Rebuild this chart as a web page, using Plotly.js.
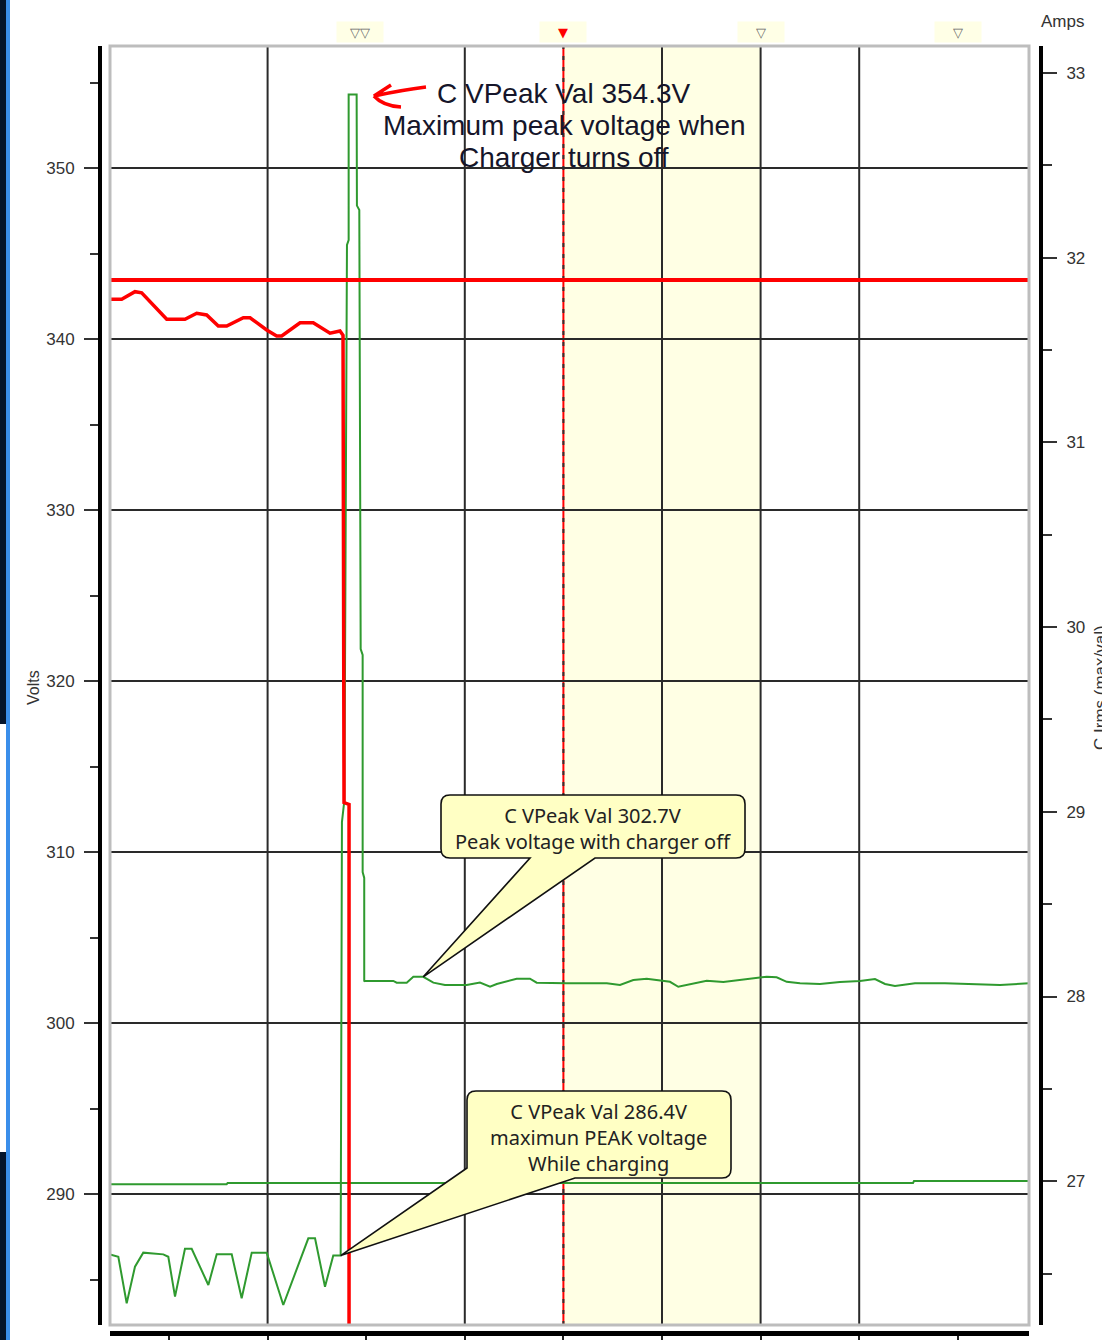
<!DOCTYPE html>
<html><head><meta charset="utf-8">
<script src="https://cdn.plot.ly/plotly-3.0.1.min.js"></script>
<style>html,body{margin:0;padding:0;background:#fff;}#chart{width:1102px;height:1340px;}</style>
</head><body><div id="chart"></div>
<script>
// ---------- DATA ----------
// Time axis (tick units); C VPeak (Volts, left axis)
const tPeak = [-0.598,-0.514,-0.429,-0.345,-0.261,-0.058,-0.007,0.061,0.162,0.230,0.399,0.484,0.636,0.737,0.839,0.991,1.159,1.413,1.481,1.582,1.666,1.741,
  1.754,1.779,1.805,1.822,1.822,1.903,1.906,1.930,1.944,1.964,1.964,1.980,1.980,
  1.988,2.275,2.309,2.411,2.478,2.579,2.681,2.799,3.019,3.154,3.256,3.324,3.425,3.526,3.661,3.729,4.034,4.440,4.574,4.709,4.845,4.980,5.081,5.165,5.251,5.453,5.622,5.791,5.926,6.062,6.163,6.265,6.400,6.602,6.805,7.008,7.160,7.262,7.363,7.566,7.870,8.225,8.428,8.722];
const voltsPeak = [286.47,286.33,283.61,285.75,286.57,286.47,286.33,284.0,286.80,286.80,284.68,286.47,286.47,283.90,286.57,286.57,283.51,287.41,287.41,284.58,286.4,286.4,
  311.75,313.04,345.50,345.79,354.3,354.3,347.80,347.54,321.87,321.52,308.83,308.48,302.42,
  302.46,302.46,302.36,302.36,302.7,302.7,302.36,302.22,302.22,302.36,302.12,302.28,302.44,302.59,302.59,302.36,302.32,302.32,302.22,302.51,302.59,302.47,302.41,302.12,302.22,302.47,302.40,302.51,302.59,302.71,302.67,302.41,302.32,302.28,302.40,302.46,302.57,302.28,302.16,302.32,302.32,302.28,302.22,302.32];

// C Irms (Amps, right axis)
const tIrms = [-0.598,-0.480,-0.345,-0.277,-0.023,0.162,0.281,0.382,0.500,0.585,0.754,0.822,0.991,1.092,1.143,1.329,1.463,1.633,1.734,1.765,1.775,1.826,1.826];
const ampsIrms = [31.775,31.775,31.816,31.810,31.667,31.667,31.699,31.690,31.630,31.630,31.675,31.675,31.609,31.576,31.576,31.648,31.648,31.591,31.603,31.58,29.05,29.04,0];

// Irms limit (Amps)
const tLimit = [-0.598, 8.722];
const ampsLimit = [31.879, 31.879];

// Second current trace (Amps)
const tFlat = [-0.598,0.584,0.594,7.546,7.556,8.722];
const ampsFlat = [26.983,26.983,26.990,26.990,27.001,27.001];

// Axis ticks
const voltTicks = [290,300,310,320,330,340,350];
const ampTicks = [27,28,29,30,31,32,33];
const timeTicks = [0,1,2,3,4,5,6,7,8];
const gridTimes = [1,3,5,6,7];
const cursorTimes = [1.94,4,6,8];
const cursorLabels = ['▽▽','▼','▽','▽'];
const bandRange = [4,6];

// Callout texts
const callTop = ['C VPeak Val 354.3V','Maximum peak voltage when','Charger turns off'];
const call1 = 'C VPeak Val 302.7V<br>Peak voltage with charger off';
const call2 = 'C VPeak Val 286.4V<br>maximun PEAK voltage<br>While charging';

// ---------- LAYOUT HELPERS ----------
const W=1102,H=1340,L=100,R=61,T=46,B=7;
const PX = px => (px-L)/(W-L-R);
const PY = py => (H-B-py)/(H-T-B);
const X = px => (px-169)/98.6;
const V = py => 350-(py-168)/17.1;
const P = (px,py) => X(px)+','+V(py);

function balloon1(){
  const x0=441,y0=795,x1=745,y1=858,r=9;
  const i = tPeak.indexOf(2.579);
  const tip = tPeak[i]+','+voltsPeak[i];
  return 'M'+P(x0+r,y0)+' L'+P(x1-r,y0)+' Q'+P(x1,y0)+' '+P(x1,y0+r)+' L'+P(x1,y1-r)+' Q'+P(x1,y1)+' '+P(x1-r,y1)+
    ' L'+P(595,y1)+' L'+tip+' L'+P(530,y1)+' L'+P(x0+r,y1)+' Q'+P(x0,y1)+' '+P(x0,y1-r)+' L'+P(x0,y0+r)+' Q'+P(x0,y0)+' '+P(x0+r,y0)+' Z';
}
function balloon2(){
  const x0=467,y0=1091,x1=731,y1=1178,r=9;
  const i = 21;
  const tip = tPeak[i]+','+voltsPeak[i];
  return 'M'+P(x0+r,y0)+' L'+P(x1-r,y0)+' Q'+P(x1,y0)+' '+P(x1,y0+r)+' L'+P(x1,y1-r)+' Q'+P(x1,y1)+' '+P(x1-r,y1)+
    ' L'+P(575,y1)+' L'+tip+' L'+P(x0,1168)+' L'+P(x0,y0+r)+' Q'+P(x0,y0)+' '+P(x0+r,y0)+' Z';
}

const tickFont = {family:'Liberation Sans, Arial, sans-serif', size:17, color:'#333'};
const green='#2F9A2F', red='#FF0000';

const traces = [
  {x:tPeak, y:voltsPeak, type:'scatter', mode:'lines', line:{color:green,width:2}, yaxis:'y', name:'C VPeak'},
  {x:tFlat, y:ampsFlat, type:'scatter', mode:'lines', line:{color:green,width:2}, yaxis:'y2', name:'C Irms val'},
  {x:tLimit, y:ampsLimit, type:'scatter', mode:'lines', line:{color:red,width:4}, yaxis:'y2', name:'Limit'},
  {x:tIrms, y:ampsIrms, type:'scatter', mode:'lines', line:{color:red,width:3.5}, yaxis:'y2', name:'C Irms'}
];

const shapes = [
  // left window chrome
  {type:'rect',xref:'paper',yref:'paper',x0:PX(0),x1:PX(6),y0:PY(0),y1:PY(724),fillcolor:'#04142B',line:{width:0}},
  {type:'rect',xref:'paper',yref:'paper',x0:PX(0),x1:PX(6),y0:PY(1152),y1:PY(1340),fillcolor:'#04142B',line:{width:0}},
  {type:'rect',xref:'paper',yref:'paper',x0:PX(6),x1:PX(10),y0:PY(0),y1:PY(1340),fillcolor:'#3A8EEA',line:{width:0}},
  // band
  {type:'rect',xref:'x',yref:'y domain',x0:bandRange[0],x1:bandRange[1],y0:0,y1:1,fillcolor:'#FFFFE4',line:{width:0},layer:'below'},
];
gridTimes.forEach(t=>shapes.push({type:'line',xref:'x',yref:'y domain',x0:t,x1:t,y0:0,y1:1,line:{color:'#2a2a2a',width:2},layer:'below'}));
shapes.push({type:'line',xref:'x',yref:'y domain',x0:cursorTimes[1],x1:cursorTimes[1],y0:0,y1:1,line:{color:red,width:2},layer:'below'});
shapes.push({type:'line',xref:'x',yref:'y domain',x0:cursorTimes[1],x1:cursorTimes[1],y0:0,y1:1,line:{color:'#333',width:2,dash:'4px,7px'},layer:'below'});
shapes.push({type:'rect',xref:'x domain',yref:'y domain',x0:0,x1:1,y0:0,y1:1,line:{color:'#BDBDBD',width:3},layer:'above'});
shapes.push({type:'path',xref:'x',yref:'y',path:balloon1(),fillcolor:'#FFFFC4',line:{color:'#111',width:1.6},layer:'above'});
shapes.push({type:'path',xref:'x',yref:'y',path:balloon2(),fillcolor:'#FFFFC4',line:{color:'#111',width:1.6},layer:'above'});
// hand-drawn red arrow
shapes.push({type:'path',xref:'x',yref:'y',path:'M'+P(426,87)+' Q'+P(402,90)+' '+P(374,96)+' L'+P(391,85)+' M'+P(374,96)+' Q'+P(383,106)+' '+P(401,107),line:{color:red,width:3.5},layer:'above'});

const annotations = [];
const topY=[93,125,157];
callTop.forEach((s,i)=>annotations.push({xref:'x',yref:'y',x:X(564),y:V(topY[i]),text:s,showarrow:false,xanchor:'center',yanchor:'middle',font:{family:'Liberation Sans, Arial, sans-serif',size:28,color:'#15152a'}}));
annotations.push({xref:'x',yref:'y',x:X(593),y:V(828),text:call1,showarrow:false,xanchor:'center',yanchor:'middle',align:'center',font:{family:'Noto Sans, sans-serif',size:20,color:'#222'}});
annotations.push({xref:'x',yref:'y',x:X(598),y:V(1137),text:call2,showarrow:false,xanchor:'center',yanchor:'middle',align:'center',font:{family:'Noto Sans, sans-serif',size:20,color:'#222'}});
cursorTimes.forEach((t,i)=>annotations.push({xref:'x',yref:'paper',x:t,y:PY(32),text:cursorLabels[i],showarrow:false,xanchor:'center',yanchor:'middle',bgcolor:'#FFFFE6',width:44,height:18,font:{family:'DejaVu Sans, sans-serif',size:13,color:i===1?red:'#666'}}));
annotations.push({xref:'paper',yref:'paper',x:PX(1062),y:PY(22),text:'Amps',showarrow:false,xanchor:'center',yanchor:'middle',font:tickFont});
annotations.push({xref:'paper',yref:'paper',x:PX(33),y:PY(688),text:'Volts',textangle:-90,showarrow:false,xanchor:'center',yanchor:'middle',font:{family:'Liberation Sans, Arial, sans-serif',size:16,color:'#333'}});
annotations.push({xref:'paper',yref:'paper',x:PX(1100),y:PY(688),text:'C Irms (max/val)',textangle:-90,showarrow:false,xanchor:'center',yanchor:'middle',font:tickFont});

const layout = {
  width:W,height:H,margin:{l:L,r:R,t:T,b:B,pad:0},
  paper_bgcolor:'#fff',plot_bgcolor:'rgba(0,0,0,0)',showlegend:false,
  xaxis:{domain:[PX(110),PX(1029)],range:[X(110),X(1029)],anchor:'free',position:0,
    tickvals:timeTicks,showticklabels:false,ticks:'outside',ticklen:8,tickwidth:2,tickcolor:'#222',
    showline:true,linewidth:5,linecolor:'#000',showgrid:false,zeroline:false,automargin:false},
  yaxis:{domain:[PY(1325),1],range:[V(1325),V(46)],anchor:'free',position:0,side:'left',
    tickvals:voltTicks,ticks:'outside',ticklen:14,tickwidth:2,tickcolor:'#333',tickfont:tickFont,ticklabelstandoff:6,
    minor:{dtick:5,ticks:'outside',ticklen:8,tickwidth:2,tickcolor:'#333',showgrid:false},
    showline:true,linewidth:4,linecolor:'#000',showgrid:true,gridcolor:'#2a2a2a',gridwidth:2,zeroline:false,automargin:false},
  yaxis2:{domain:[PY(1325),1],range:[33-(1325-73)/184.7,33+(73-46)/184.7],overlaying:'y',anchor:'free',position:1,side:'right',
    tickvals:ampTicks,ticks:'outside',ticklen:14,tickwidth:2,tickcolor:'#333',tickfont:tickFont,ticklabelstandoff:6,
    minor:{dtick:0.5,ticks:'outside',ticklen:9,tickwidth:2,tickcolor:'#333',showgrid:false},
    showline:true,linewidth:4,linecolor:'#000',showgrid:false,zeroline:false,automargin:false},
  shapes:shapes,annotations:annotations
};
Plotly.newPlot('chart',traces,layout,{staticPlot:true,displayModeBar:false});
</script></body></html>
